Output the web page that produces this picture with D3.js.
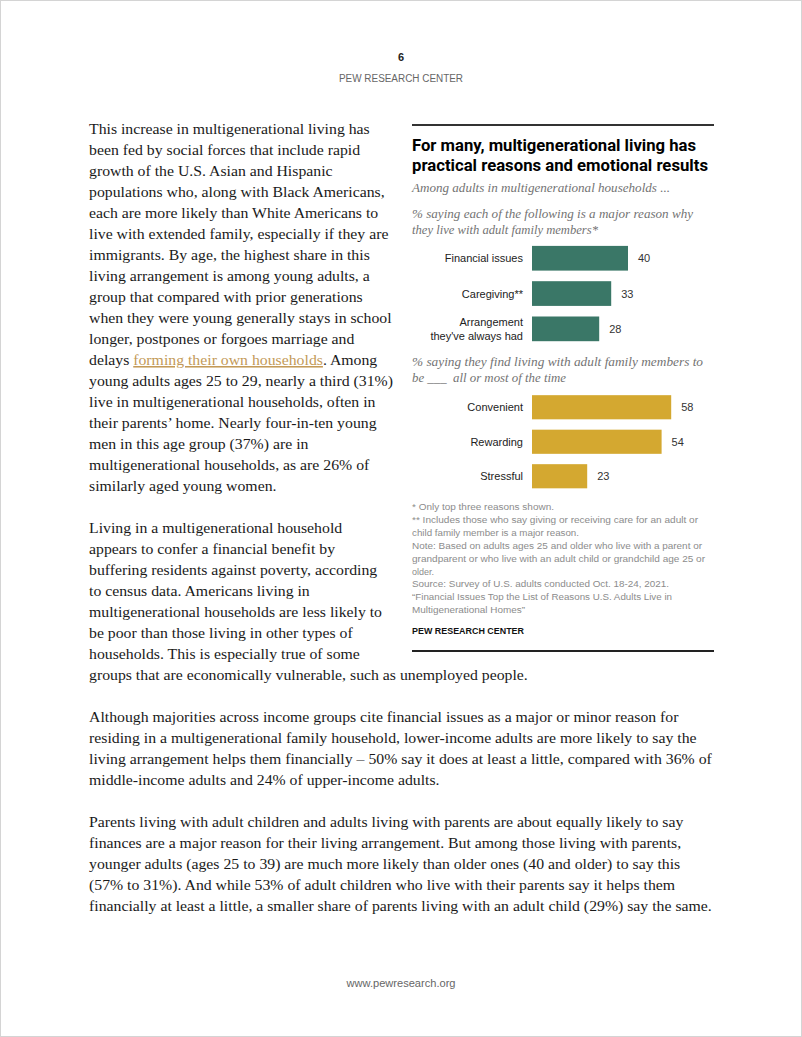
<!DOCTYPE html>
<html><head><meta charset="utf-8">
<script src="https://cdn.jsdelivr.net/npm/d3@7"></script>
<style>html,body{margin:0;padding:0;background:#fff;}svg{display:block;}</style>
</head><body>
<script>
// ---------- DATA ----------
const reasonCategories = ["Financial issues", "Caregiving**", "Arrangement|they've always had"];
const reasonValues = [40, 33, 28];
const feelingCategories = ["Convenient", "Rewarding", "Stressful"];
const feelingValues = [58, 54, 23];

const titleLines = ["For many, multigenerational living has", "practical reasons and emotional results"];
const subtitle = "Among adults in multigenerational households ...";
const reasonQuestion = ["% saying each of the following is a major reason why", "they live with adult family members*"];
const feelingQuestion = ["% saying they find living with adult family members to", "be ___  all or most of the time"];
const noteLines = [
  "* Only top three reasons shown.",
  "** Includes those who say giving or receiving care for an adult or",
  "child family member is a major reason.",
  "Note: Based on adults ages 25 and older who live with a parent or",
  "grandparent or who live with an adult child or grandchild age 25 or",
  "older.",
  "Source: Survey of U.S. adults conducted Oct. 18-24, 2021.",
  "\u201CFinancial Issues Top the List of Reasons U.S. Adults Live in",
  "Multigenerational Homes\u201D"
];
const sourceLabel = "PEW RESEARCH CENTER";

const para1 = [
  "This increase in multigenerational living has",
  "been fed by social forces that include rapid",
  "growth of the U.S. Asian and Hispanic",
  "populations who, along with Black Americans,",
  "each are more likely than White Americans to",
  "live with extended family, especially if they are",
  "immigrants. By age, the highest share in this",
  "living arrangement is among young adults, a",
  "group that compared with prior generations",
  "when they were young generally stays in school",
  "longer, postpones or forgoes marriage and",
  "delays [forming their own households]. Among",
  "young adults ages 25 to 29, nearly a third (31%)",
  "live in multigenerational households, often in",
  "their parents\u2019 home. Nearly four-in-ten young",
  "men in this age group (37%) are in",
  "multigenerational households, as are 26% of",
  "similarly aged young women."
];
const para2 = [
  "Living in a multigenerational household",
  "appears to confer a financial benefit by",
  "buffering residents against poverty, according",
  "to census data. Americans living in",
  "multigenerational households are less likely to",
  "be poor than those living in other types of",
  "households. This is especially true of some",
  "groups that are economically vulnerable, such as unemployed people."
];
const para3 = [
  "Although majorities across income groups cite financial issues as a major or minor reason for",
  "residing in a multigenerational family household, lower-income adults are more likely to say the",
  "living arrangement helps them financially \u2013 50% say it does at least a little, compared with 36% of",
  "middle-income adults and 24% of upper-income adults."
];
const para4 = [
  "Parents living with adult children and adults living with parents are about equally likely to say",
  "finances are a major reason for their living arrangement. But among those living with parents,",
  "younger adults (ages 25 to 39) are much more likely than older ones (40 and older) to say this",
  "(57% to 31%). And while 53% of adult children who live with their parents say it helps them",
  "financially at least a little, a smaller share of parents living with an adult child (29%) say the same."
];

// ---------- LAYOUT ----------
const W = 802, H = 1037;
const svg = d3.select("body").append("svg").attr("width", W).attr("height", H);
svg.append("rect").attr("x", 0.5).attr("y", 0.5).attr("width", W - 1).attr("height", H - 1)
  .attr("fill", "#fff").attr("stroke", "#d4d4d4");

const sans = "'Liberation Sans', Arial, sans-serif";
const serif = "'Liberation Serif', 'Times New Roman', serif";

function fitTo(sel, w) {
  sel.attr("textLength", w).attr("lengthAdjust", "spacingAndGlyphs");
}

// Header
svg.append("text").attr("x", 401).attr("y", 61).attr("text-anchor", "middle")
  .attr("font-family", sans).attr("font-weight", "bold").attr("font-size", 11).attr("fill", "#222").text("6");
svg.append("text").attr("x", 401).attr("y", 82).attr("text-anchor", "middle")
  .attr("font-family", sans).attr("font-size", 10).attr("fill", "#666")
  .text("PEW RESEARCH CENTER").call(fitTo, 124);

// Footer
svg.append("text").attr("x", 401).attr("y", 987).attr("text-anchor", "middle")
  .attr("font-family", sans).attr("font-size", 10.5).attr("fill", "#666")
  .text("www.pewresearch.org").call(fitTo, 109);

// ---------- BODY TEXT ----------
const bodyG = svg.append("g").attr("font-family", serif).attr("font-size", 15.5).attr("fill", "#1a1a1a");
const lineH = 21;
const paras = [
  {lines: para1, y0: 134},
  {lines: para2, y0: 533},
  {lines: para3, y0: 722},
  {lines: para4, y0: 827}
];
const allTexts = [];
paras.forEach(p => {
  p.lines.forEach((ln, i) => {
    const t = bodyG.append("text").attr("x", 89).attr("y", p.y0 + i * lineH);
    const parts = ln.split(/(\[[^\]]*\])/).filter(s => s.length);
    parts.forEach(s => {
      if (s.startsWith("[")) {
        t.append("tspan").attr("fill", "#c39a58").attr("text-decoration", "underline").text(s.slice(1, -1));
      } else {
        t.append("tspan").text(s);
      }
    });
    allTexts.push(t);
  });
});
// calibrate a uniform compression from a few full-width reference lines
const calib = [[3, 301], [12, 303], [25, 440], [28, 620], [allTexts.length - 1, 620]];
let sumT = 0, sumL = 0;
calib.forEach(([i, w]) => { sumT += w; sumL += allTexts[i].node().getComputedTextLength(); });
const k = sumT / sumL;
allTexts.forEach(t => {
  const L = t.node().getComputedTextLength();
  t.attr("textLength", L * k).attr("lengthAdjust", "spacingAndGlyphs");
});

// ---------- CHART ----------
const cx = 412, cRight = 714;
svg.append("line").attr("x1", cx).attr("x2", cRight).attr("y1", 125).attr("y2", 125)
  .attr("stroke", "#333").attr("stroke-width", 1.8);

const titleW = [284, 296];
titleLines.forEach((t, i) => {
  svg.append("text").attr("x", cx).attr("y", 151 + i * 19.5)
    .attr("font-family", "Roboto, 'Liberation Sans', sans-serif").attr("font-weight", "bold")
    .attr("font-size", 17).attr("fill", "#000").text(t).call(fitTo, titleW[i]);
});

const italic = g => g.attr("font-family", serif).attr("font-style", "italic").attr("font-size", 12.5).attr("fill", "#737373");
svg.append("text").attr("x", cx).attr("y", 192).call(italic).text(subtitle).call(fitTo, 258);
const rqW = [281, 186];
reasonQuestion.forEach((t, i) => {
  svg.append("text").attr("x", cx).attr("y", 218 + i * 16).call(italic).text(t).call(fitTo, rqW[i]);
});
const fqW = [291, 154];
feelingQuestion.forEach((t, i) => {
  svg.append("text").attr("x", cx).attr("y", 366 + i * 15.5).call(italic)
    .attr("xml:space", "preserve").style("white-space", "pre").text(t).call(fitTo, fqW[i]);
});

const x = d3.scaleLinear().domain([0, 100]).range([532, 772]);

function barGroup(cats, vals, range, color) {
  const y = d3.scaleBand().domain(cats).range(range).paddingInner(0.3).paddingOuter(0.15);
  const g = svg.append("g");
  const data = cats.map((c, i) => ({c, v: vals[i]}));
  g.selectAll("rect").data(data).join("rect")
    .attr("x", x(0)).attr("y", d => y(d.c))
    .attr("width", d => x(d.v) - x(0)).attr("height", y.bandwidth())
    .attr("fill", color);
  g.selectAll("text.val").data(data).join("text").attr("class", "val")
    .attr("x", d => x(d.v) + 10).attr("y", d => y(d.c) + y.bandwidth() / 2 + 4)
    .attr("font-family", sans).attr("font-size", 11).attr("fill", "#333").text(d => d.v);
  g.selectAll("text.cat").data(data).join("text").attr("class", "cat")
    .attr("text-anchor", "end").attr("font-family", sans).attr("font-size", 11).attr("fill", "#222")
    .each(function(d) {
      const parts = d.c.split("|");
      const mid = y(d.c) + y.bandwidth() / 2 + 4;
      const start = mid - (parts.length - 1) * 14 / 2;
      parts.forEach((p, j) => {
        d3.select(this).append("tspan").attr("x", 523).attr("y", start + j * 14).text(p);
      });
    });
}
barGroup(reasonCategories, reasonValues, [240.6, 346.5], "#3a7767");
barGroup(feelingCategories, feelingValues, [390, 493.5], "#d4a830");

// Notes
const noteW = [142, 286, 167, 290, 293, 22, 257, 260, 113];
noteLines.forEach((t, i) => {
  svg.append("text").attr("x", cx).attr("y", 510 + i * 12.9)
    .attr("font-family", sans).attr("font-size", 9.6).attr("fill", "#8c8c8c")
    .text(t).call(fitTo, noteW[i]);
});
svg.append("text").attr("x", cx).attr("y", 634)
  .attr("font-family", sans).attr("font-weight", "bold").attr("font-size", 9.5).attr("fill", "#111")
  .text(sourceLabel).call(fitTo, 112);

svg.append("line").attr("x1", cx).attr("x2", cRight).attr("y1", 651).attr("y2", 651)
  .attr("stroke", "#222").attr("stroke-width", 2.2);
</script>
</body></html>
